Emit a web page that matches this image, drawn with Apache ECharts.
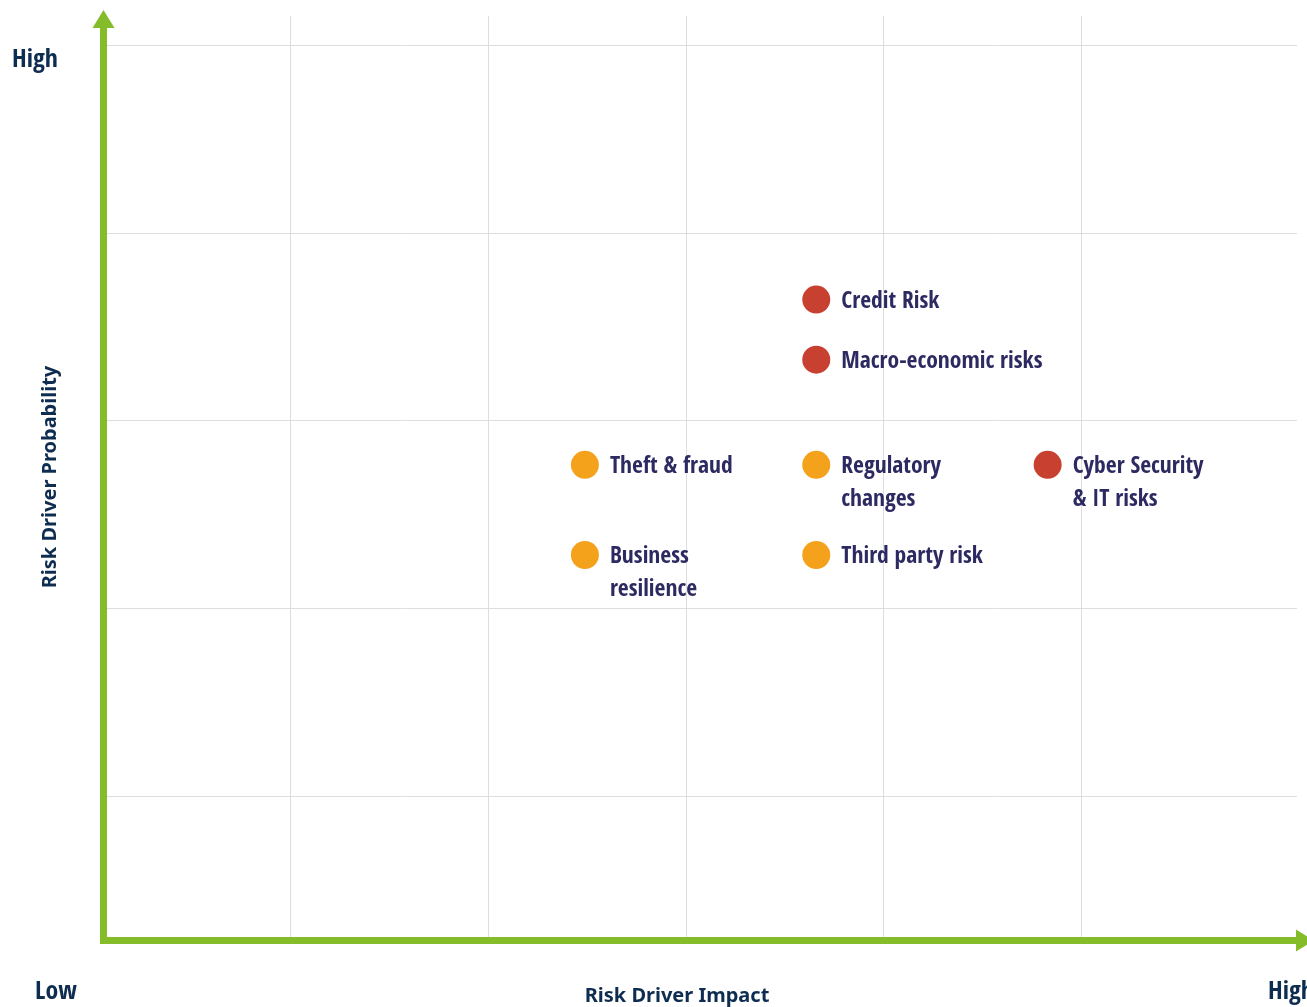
<!DOCTYPE html>
<html><head><meta charset="utf-8">
<script src="https://cdn.jsdelivr.net/npm/echarts@6/dist/echarts.min.js"></script>
<style>html,body{margin:0;padding:0;background:#fff}#c{width:1307px;height:1007px}</style>
</head><body><div id="c"></div>
<script>
// ---- data ----
const riskNames = ['Credit Risk', 'Macro-economic risks', 'Theft & fraud', 'Regulatory\nchanges', 'Cyber Security\n& IT risks', 'Business\nresilience', 'Third party risk'];
const impact = [3.66, 3.66, 2.49, 3.66, 4.83, 2.49, 3.66];        // columns from left edge
const probability = [3.41, 3.09, 2.53, 2.53, 2.53, 2.05, 2.05];   // rows from x-axis
const severity = ['high', 'high', 'medium', 'medium', 'high', 'medium', 'medium'];
const endLabels = ['Low', 'High'];
const xTitle = 'Risk Driver Impact';
const yTitle = 'Risk Driver Probability';

// ---- styles ----
const GREEN = '#85bd2a';
const GRID = '#dedede';
const NAVY = '#0e2d50';
const LABEL = '#2d2a62';
const sevColor = { high: '#c84130', medium: '#f4a11b' };
const TITLE_FAMILY = "'Noto Sans', 'DejaVu Sans', sans-serif";
const LINE_H = 33;

// choose the narrowest bold face that is installed (reference uses a condensed face)
const mctx = document.createElement('canvas').getContext('2d');
const SAMPLE = 'Macro-economic risks';
function tryFont(font) {
  mctx.font = '13px monospace';
  mctx.font = font;
  if (/monospace/.test(mctx.font)) return null;
  return mctx.measureText(SAMPLE).width;
}
const families = ["'Liberation Sans Narrow'", "'Arial Narrow'", "'Roboto Condensed'", "'DejaVu Sans Condensed'",
  "'Noto Sans Condensed'", "'Open Sans Condensed'", "'Noto Sans'", "Roboto", "'Liberation Sans'", "Lato"];
const stretches = ['', 'condensed ', 'extra-condensed '];
let best = { w: Infinity, fam: "'Noto Sans'", str: '' };
const baseW = tryFont("bold 100px 'Noto Sans'") || 1100;
for (const fam of families) {
  for (const st of stretches) {
    const w = tryFont('bold ' + st + '100px ' + fam);
    if (w && w < best.w - 1) best = { w, fam, str: st };
  }
}
const FAMILY = best.fam + ", 'Noto Sans', sans-serif";
const WEIGHT = ('bold ' + best.str).trim();
const condensedOK = best.w < baseW * 0.86;
function fitSize(sample, target, minSize, maxSize) {
  mctx.font = WEIGHT + ' 100px ' + FAMILY;
  const s = target / mctx.measureText(sample).width * 100;
  return Math.round(Math.min(maxSize, condensedOK ? s : Math.max(s, minSize)) * 10) / 10;
}
const labelSize = fitSize(SAMPLE, 201, 20.5, 27);
const endSize = fitSize('High', 46, 23, 31);

const chart = echarts.init(document.getElementById('c'), null, { renderer: 'canvas' });

const points = riskNames.map((n, i) => {
  const lines = n.split('\n').length;
  return {
    name: n,
    value: [impact[i], probability[i]],
    itemStyle: { color: sevColor[severity[i]], opacity: 1 },
    label: { offset: [0, (lines - 1) * LINE_H / 2 + 2] }
  };
});

const arrowAxis = (offset) => ({
  show: true, onZero: false,
  symbol: ['none', 'triangle'], symbolSize: [22, 18], symbolOffset: [0, offset],
  lineStyle: { color: GREEN, width: 7, cap: 'square' }
});

const endFont = WEIGHT + ' ' + endSize + 'px ' + FAMILY;

const option = {
  backgroundColor: '#ffffff',
  animation: false,
  grid: [
    { left: 103.5, top: 24, right: 11, bottom: 66.5 },          // axes with arrows
    { left: 92.5, top: 16, width: 1186.5, bottom: 67 },         // columns + data
    { left: 107, right: 10, top: 45, bottom: 23 }               // rows
  ],
  xAxis: [
    { gridIndex: 0, type: 'value', min: 0, max: 1, z: 10, axisLine: arrowAxis(9),
      axisTick: { show: false }, axisLabel: { show: false }, splitLine: { show: false } },
    { gridIndex: 1, type: 'value', min: 0, max: 6, interval: 1,
      axisLine: { show: false }, axisTick: { show: false }, axisLabel: { show: false },
      splitLine: { show: true, showMinLine: false, showMaxLine: false, lineStyle: { color: GRID, width: 1 } } },
    { gridIndex: 2, type: 'value', min: 0, max: 1, show: false }
  ],
  yAxis: [
    { gridIndex: 0, type: 'value', min: 0, max: 1, z: 10, axisLine: arrowAxis(5),
      axisTick: { show: false }, axisLabel: { show: false }, splitLine: { show: false } },
    { gridIndex: 1, type: 'value', min: 0, max: 4.92, show: false },
    { gridIndex: 2, type: 'value', min: 0, max: 5, interval: 1,
      axisLine: { show: false }, axisTick: { show: false }, axisLabel: { show: false },
      splitLine: { show: true, showMinLine: false, showMaxLine: true, lineStyle: { color: GRID, width: 1 } } }
  ],
  series: [{
    type: 'scatter',
    xAxisIndex: 1, yAxisIndex: 1,
    symbolSize: 28,
    data: points,
    itemStyle: { opacity: 1 },
    emphasis: { disabled: true },
    label: {
      show: true, position: 'right', distance: 11, formatter: '{b}',
      fontFamily: FAMILY, fontWeight: WEIGHT, fontSize: labelSize, lineHeight: LINE_H,
      color: LABEL, opacity: 1
    },
    z: 5
  }],
  graphic: [
    { type: 'text', x: 12, y: 60, style: { text: endLabels[1], font: endFont, fill: NAVY, align: 'left', verticalAlign: 'middle' } },
    { type: 'text', x: 35, y: 992, style: { text: endLabels[0], font: endFont, fill: NAVY, align: 'left', verticalAlign: 'middle' } },
    { type: 'text', x: 1268, y: 992, style: { text: endLabels[1], font: endFont, fill: NAVY, align: 'left', verticalAlign: 'middle' } },
    { type: 'text', x: 677, y: 996, style: { text: xTitle, font: "bold 20px " + TITLE_FAMILY, fill: NAVY, align: 'center', verticalAlign: 'middle' } },
    { type: 'text', x: 50, y: 477, rotation: Math.PI / 2, style: { text: yTitle, font: "bold 20px " + TITLE_FAMILY, fill: NAVY, align: 'center', verticalAlign: 'middle' } }
  ]
};
chart.setOption(option);
</script>
</body></html>
